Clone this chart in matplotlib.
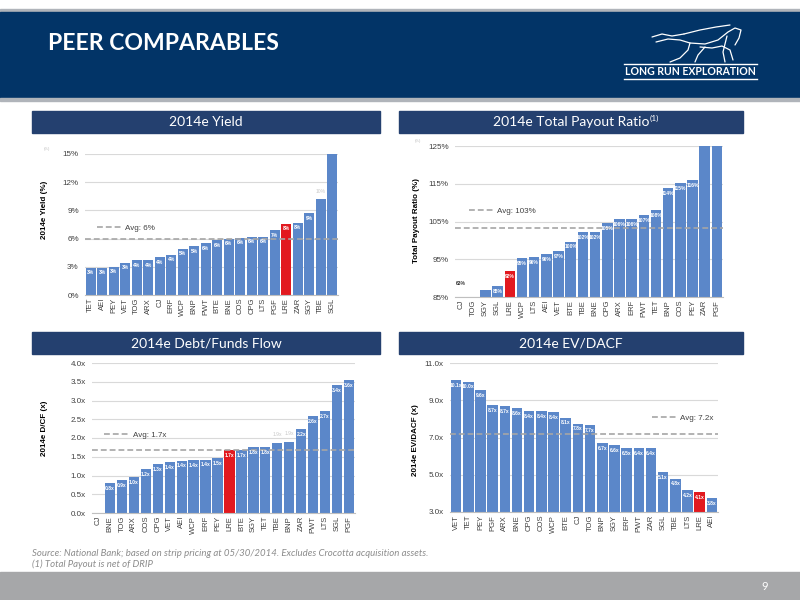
import numpy as np
import matplotlib
matplotlib.use('Agg')
import matplotlib.pyplot as plt
from matplotlib.patches import Rectangle

plt.rcParams['font.family'] = ['Liberation Sans', 'DejaVu Sans']
NARROW = ['Lato', 'DejaVu Sans']

# --- data ---
yield_names = ['TET', 'AEI', 'PEY', 'VET', 'TOG', 'ARX', 'CJ', 'ERF', 'WCP', 'BNP', 'PWT',
               'BTE', 'BNE', 'COS', 'CPG', 'LTS', 'PGF', 'LRE', 'ZAR', 'SGY', 'TBE', 'SGL']
yield_vals = [2.9, 2.9, 3.0, 3.4, 3.7, 3.7, 4.0, 4.3, 4.9, 5.2, 5.5,
              5.8, 6.0, 6.1, 6.2, 6.2, 6.9, 7.6, 7.7, 8.7, 10.2, 16.5]
yield_labels = ['3%', '3%', '3%', '3%', '4%', '4%', '4%', '4%', '5%', '5%', '6%',
                '6%', '6%', '6%', '6%', '6%', '7%', '8%', '8%', '9%', '10%', '']
yield_avg = 5.95

payout_names = ['CJ', 'TOG', 'SGY', 'SGL', 'LRE', 'WCP', 'LTS', 'AEI', 'VET', 'BTE', 'TBE',
                'BNE', 'CPG', 'ARX', 'ERF', 'PWT', 'TET', 'BNP', 'COS', 'PEY', 'ZAR', 'PGF']
payout_vals = [63, np.nan, 86.9, 87.8, 91.9, 95.3, 95.6, 96.4, 97.2, 99.7, 102.1,
               102.1, 104.6, 105.6, 105.7, 106.6, 108.0, 113.8, 115.2, 116.0, 132, 145]
payout_labels = ['63%', '', '', '88%', '92%', '95%', '96%', '96%', '97%', '100%', '102%',
                 '102%', '105%', '106%', '106%', '107%', '108%', '114%', '115%', '116%', '', '']
payout_avg = 103.4

debt_names = ['CJ', 'BNE', 'TOG', 'ARX', 'COS', 'CPG', 'VET', 'AEI', 'WCP', 'ERF', 'PEY',
              'LRE', 'BTE', 'SGY', 'TET', 'TBE', 'BNP', 'ZAR', 'PWT', 'LTS', 'SGL', 'PGF']
debt_vals = [0.0, 0.79, 0.87, 0.95, 1.18, 1.30, 1.35, 1.40, 1.41, 1.42, 1.46,
             1.68, 1.68, 1.75, 1.76, 1.88, 1.90, 2.24, 2.59, 2.71, 3.42, 3.55]
debt_labels = ['', '0.8x', '0.9x', '1.0x', '1.2x', '1.3x', '1.4x', '1.4x', '1.4x', '1.4x', '1.5x',
               '1.7x', '1.7x', '1.8x', '1.8x', '1.9x', '1.9x', '2.2x', '2.6x', '2.7x', '3.4x', '3.6x']
debt_avg = 1.68

ev_names = ['VET', 'TET', 'PEY', 'PGF', 'ARX', 'BNE', 'CPG', 'COS', 'WCP', 'BTE', 'CJ',
            'TOG', 'BNP', 'SGY', 'ERF', 'PWT', 'ZAR', 'SGL', 'TBE', 'LTS', 'LRE', 'AEI']
ev_vals = [10.09, 10.0, 9.55, 8.72, 8.67, 8.58, 8.43, 8.42, 8.35, 8.06, 7.75,
           7.66, 6.71, 6.6, 6.43, 6.43, 6.41, 5.13, 4.79, 4.17, 4.06, 3.75]
ev_labels = ['10.1x', '10.0x', '9.6x', '8.7x', '8.7x', '8.6x', '8.4x', '8.4x', '8.4x', '8.1x', '7.8x',
             '7.7x', '6.7x', '6.6x', '6.5x', '6.4x', '6.4x', '5.1x', '4.8x', '4.2x', '4.1x', '3.8x']
ev_avg = 7.2

BLUE = '#5b87c9'
RED = '#e2191f'
NAVY = '#023467'
BOX = '#24406f'

W, H = 800, 600
fig = plt.figure(figsize=(8, 6), dpi=100)


def rect(l, t, r, b):
    return [l / W, 1 - b / H, (r - l) / W, (b - t) / H]


def px(x, y):
    return x / W, 1 - y / H


# header band
bg = fig.add_axes([0, 0, 1, 1], zorder=-5)
bg.set_xlim(0, W)
bg.set_ylim(H, 0)
bg.axis('off')
bg.add_patch(Rectangle((0, 9), W, 3, color='#b0b4ba'))
bg.add_patch(Rectangle((0, 12), W, 86, color=NAVY))
bg.add_patch(Rectangle((0, 98), W, 3, color='#b0b4ba'))
bg.add_patch(Rectangle((0, 572), W, 28, color='#a6a7a9'))
bg.text(48, 43, 'PEER COMPARABLES', color='white', fontsize=16.6, fontweight='bold',
        family=NARROW, va='center', ha='left')

# logo: rough horse sketch and name
horse = [
    [(652, 37), (662, 34), (672, 36), (684, 34)],
    [(656, 42), (668, 39), (680, 40), (690, 43), (705, 44), (718, 40), (728, 32), (735, 28), (741, 30), (739, 38), (735, 45)],
    [(690, 43), (688, 50), (680, 58), (670, 62)],
    [(700, 47), (712, 48), (722, 46), (730, 50), (733, 60)],
    [(705, 47), (698, 55), (695, 62)],
    [(727, 36), (723, 52), (725, 62)],
    [(684, 34), (700, 30), (716, 27), (730, 25)],
]
for seg in horse:
    xs, ys = zip(*seg)
    bg.plot(xs, ys, color='white', lw=0.9, solid_capstyle='round')
bg.plot([624, 757], [64, 64], color='white', lw=1.0)
bg.plot([624, 757], [79, 79], color='white', lw=1.0)
bg.text(690, 71.5, 'LONG RUN EXPLORATION', color='white', fontsize=7.6, fontweight='bold',
        family=NARROW, ha='center', va='center')

# section title boxes
boxes = [((32, 111, 380, 133), '2014e Yield'),
         ((399, 111, 743, 133), '2014e Total Payout Ratio'),
         ((32, 332, 380, 354), '2014e Debt/Funds Flow'),
         ((399, 332, 743, 354), '2014e EV/DACF')]
for (l, t, r, b), title in boxes:
    bg.add_patch(Rectangle((l, t), r - l, b - t, color=BOX))
    tx = bg.text((l + r) / 2, (t + b) / 2 + 0.5, title, color='white', fontsize=10,
                 family=NARROW, ha='center', va='center')
    if 'Payout' in title:
        bg.annotate('(1)', xy=(1, 0.8), xycoords=tx, color='white', fontsize=6,
                    family=NARROW, ha='left', va='center')

# footer
bg.text(32, 553, 'Source: National Bank; based on strip pricing at 05/30/2014. Excludes Crocotta acquisition assets.',
        color='#8c8c8c', fontsize=6.9, style='italic', family=NARROW, va='center')
bg.text(32, 564, '(1) Total Payout is net of DRIP', color='#8c8c8c', fontsize=6.9,
        style='italic', family=NARROW, va='center')
bg.text(765, 587, '9', color='white', fontsize=8, family=NARROW, ha='center', va='center')


def bar_panel(box, names, vals, labels, ylim, ticks, tickfmt, avg, avg_text, leg_xy,
              ylabel, ylabel_xy, outside=(), below_label=None):
    ax = fig.add_axes(rect(*box))
    x = np.arange(len(names))
    colors = [RED if n == 'LRE' else BLUE for n in names]
    ax.bar(x, vals, width=0.86, color=colors, zorder=2)
    ax.set_xlim(-0.5, len(names) - 0.5)
    ax.set_ylim(*ylim)
    ax.set_yticks(ticks)
    ax.set_yticklabels([tickfmt(t) for t in ticks], fontsize=5.8, color='#404040')
    ax.set_xticks(x)
    ax.set_xticklabels(names, rotation=90, fontsize=5.5, color='#404040')
    ax.tick_params(length=0)
    ax.tick_params(axis='x', pad=2)
    ax.tick_params(axis='y', pad=4.5)
    ax.grid(axis='y', color='#d9d9d9', lw=0.8, zorder=0)
    for s in ['top', 'right', 'left']:
        ax.spines[s].set_visible(False)
    ax.spines['bottom'].set_color('#bfbfbf')
    span = ylim[1] - ylim[0]
    for xi, v, lab, n in zip(x, vals, labels, names):
        if not lab:
            continue
        if n in outside:
            ax.text(xi, v + span * 0.055, lab, ha='center', va='center', fontsize=3.6,
                    color='#c8c8c8', zorder=4)
        elif v < ylim[0]:
            ax.text(xi, below_label, lab, ha='center', va='center', fontsize=3.6,
                    color='#333333', fontweight='bold', zorder=4)
        else:
            ax.text(xi, v - span * 0.035, lab, ha='center', va='center', fontsize=3.6,
                    color='white', fontweight='bold', zorder=4)
    ax.axhline(avg, color='#a6a6a6', lw=1.2, ls=(0, (3.5, 1.8)), zorder=3, label=avg_text)
    ax.legend(loc='center left', bbox_to_anchor=leg_xy, frameon=False, fontsize=5.8,
              handlelength=3.2, handletextpad=0.3, borderaxespad=0, labelcolor='#404040')
    fig.text(*px(*ylabel_xy), ylabel, rotation=90, fontsize=5.8, fontweight='bold',
             ha='center', va='center')
    return ax


bar_panel((85, 154, 338, 295), yield_names, yield_vals, yield_labels, (0, 15),
          [0, 3, 6, 9, 12, 15], lambda t: f'{t}%', yield_avg, 'Avg: 6%', (0.035, 0.475),
          '2014e Yield (%)', (45, 210), outside=('TBE',))
fig.text(*px(47, 149), '(%)', fontsize=3, color='#bbbbbb', ha='center', va='center')

bar_panel((455, 146, 723, 297), payout_names, payout_vals, payout_labels, (85, 125),
          [85, 95, 105, 115, 125], lambda t: f'{t}%', payout_avg, 'Avg: 103%', (0.04, 0.57),
          'Total Payout Ratio (%)', (417, 221), below_label=88.5)
fig.text(*px(418, 141), '(%)', fontsize=3, color='#bbbbbb', ha='center', va='center')

bar_panel((92, 363, 355, 513), debt_names, debt_vals, debt_labels, (0, 4),
          [0, 0.5, 1, 1.5, 2, 2.5, 3, 3.5, 4], lambda t: f'{t:.1f}x', debt_avg, 'Avg: 1.7x',
          (0.035, 0.52), '2014e D/CF (x)', (45, 428), outside=('TBE', 'BNP'))

bar_panel((450, 363, 718, 512), ev_names, ev_vals, ev_labels, (3, 11),
          [3, 5, 7, 9, 11], lambda t: f'{t:.1f}x', ev_avg, 'Avg: 7.2x', (0.74, 0.63),
          '2014e EV/DACF (x)', (415, 440))

fig.savefig('out.png', dpi=100)
